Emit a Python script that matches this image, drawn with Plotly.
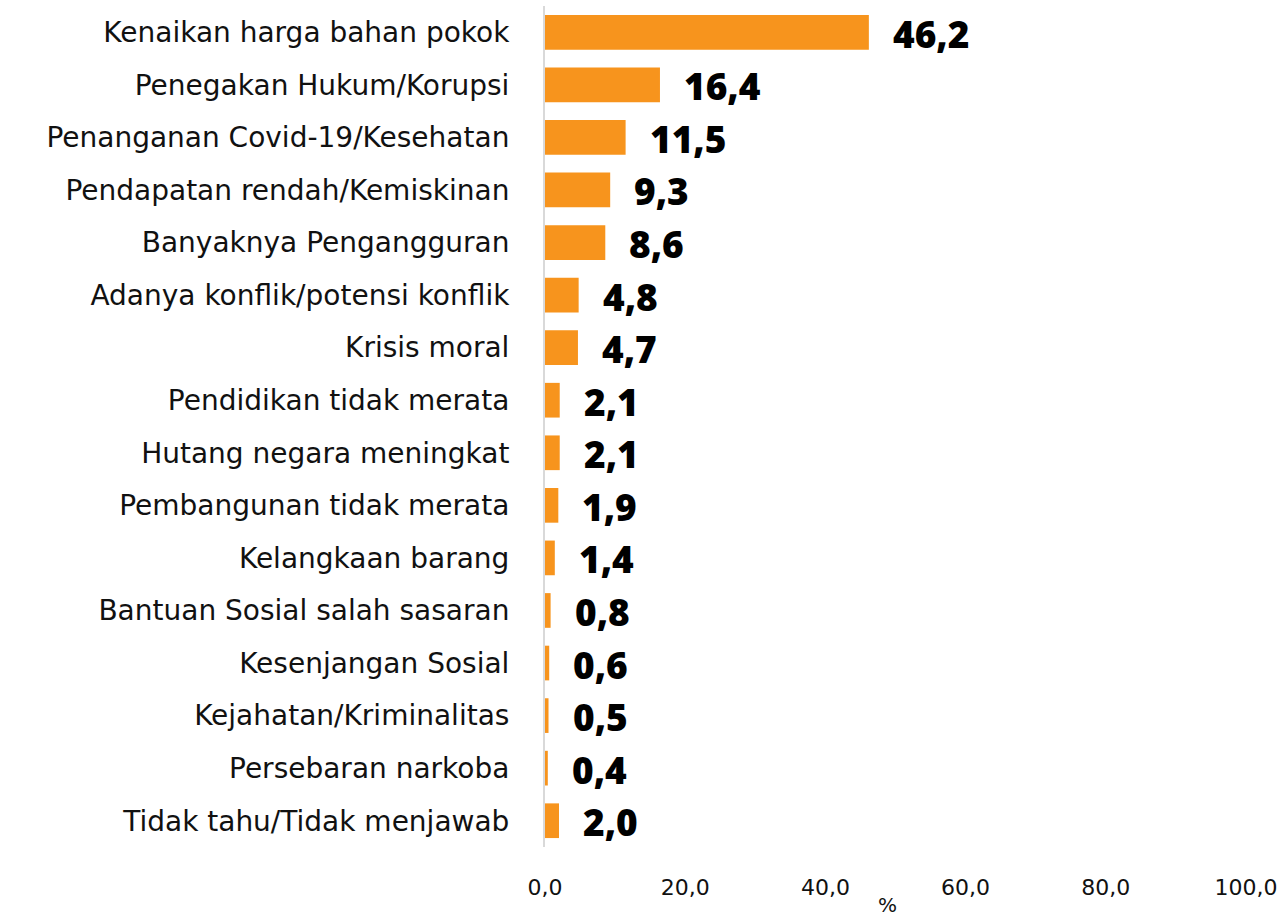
import plotly.graph_objects as go

categories = [
    "Kenaikan harga bahan pokok",
    "Penegakan Hukum/Korupsi",
    "Penanganan Covid-19/Kesehatan",
    "Pendapatan rendah/Kemiskinan",
    "Banyaknya Pengangguran",
    "Adanya konflik/potensi konflik",
    "Krisis moral",
    "Pendidikan tidak merata",
    "Hutang negara meningkat",
    "Pembangunan tidak merata",
    "Kelangkaan barang",
    "Bantuan Sosial salah sasaran",
    "Kesenjangan Sosial",
    "Kejahatan/Kriminalitas",
    "Persebaran narkoba",
    "Tidak tahu/Tidak menjawab",
]
values = [46.2, 16.4, 11.5, 9.3, 8.6, 4.8, 4.7, 2.1, 2.1, 1.9, 1.4, 0.8, 0.6, 0.5, 0.4, 2.0]
tick_values = [0, 20, 40, 60, 80, 100]
axis_unit = "%"

BAR_COLOR = "#F7941D"
FONT = "Open Sans"
LABEL_FONT = "DejaVu Sans"

fig = go.Figure(
    go.Bar(
        x=values,
        y=categories,
        orientation="h",
        marker=dict(color=BAR_COLOR, line=dict(width=0)),
        width=0.66,
        hoverinfo="skip",
    )
)

annotations = []
for c, v in zip(categories, values):
    annotations.append(
        dict(
            x=v, y=c, xref="x", yref="y",
            text=f"{v:.1f}".replace(".", ","),
            showarrow=False, xanchor="left", yanchor="middle",
            xshift=22, yshift=-1,
            font=dict(family=FONT, size=37, color="#000000", weight=800),
        )
    )
annotations.append(
    dict(
        x=48.8, y=-0.069, xref="x", yref="paper",
        text=axis_unit, showarrow=False, xanchor="center", yanchor="middle",
        font=dict(family=LABEL_FONT, size=20, color="#111111"),
    )
)

fig.update_layout(
    width=1283, height=916,
    margin=dict(l=545, r=37, t=6, b=69),
    paper_bgcolor="white", plot_bgcolor="white",
    separators=",.",
    showlegend=False,
    annotations=annotations,
    font=dict(family=LABEL_FONT, color="#111111"),
)
fig.update_xaxes(
    range=[0, 100], tickvals=tick_values, tickformat=".1f",
    showgrid=False, zeroline=False, showline=False,
    ticks="", ticklabelstandoff=25,
    tickfont=dict(family=LABEL_FONT, size=22, color="#111111"),
)
fig.update_yaxes(
    range=[15.5, -0.5], type="category",
    showgrid=False, zeroline=False,
    showline=True, linecolor="#D9D9D9", linewidth=2,
    ticks="", ticklabelstandoff=28,
    tickfont=dict(family=LABEL_FONT, size=28, color="#111111"),
)

fig.write_html(
    "out.html",
    config={"displayModeBar": False},
    post_script="document.body.style.margin='0';document.body.style.padding='0';",
)
